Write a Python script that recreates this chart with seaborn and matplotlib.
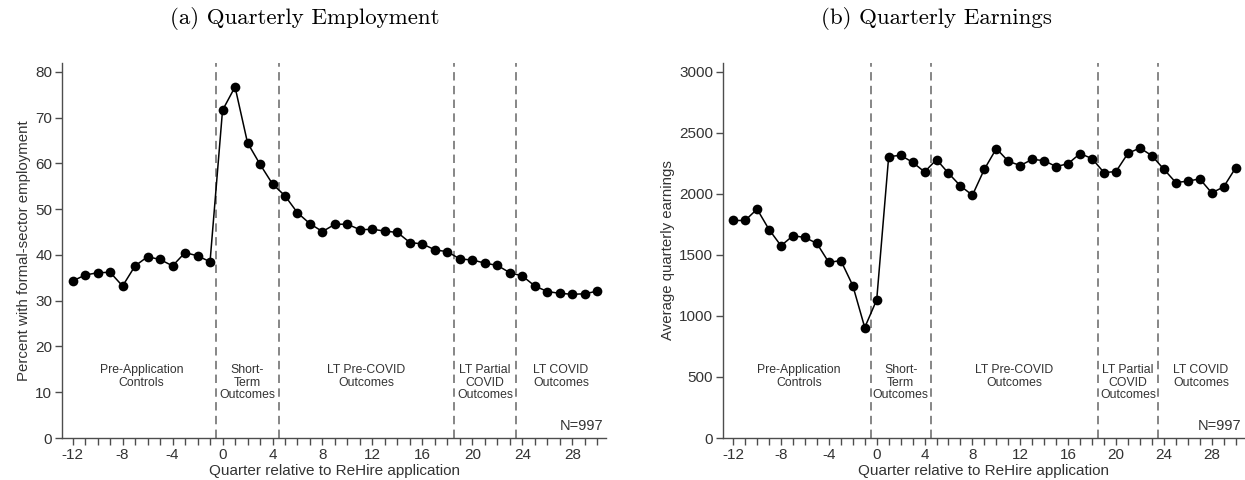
import numpy as np
import pandas as pd
import matplotlib
matplotlib.use("Agg")
import matplotlib.pyplot as plt
import matplotlib.transforms as mtransforms
from matplotlib.ticker import MultipleLocator, FixedLocator
import seaborn as sns

quarters = list(range(-12, 31))
employment = [34.3, 35.6, 36.1, 36.2, 33.2, 37.6, 39.6, 39.0, 37.6, 40.5, 39.8, 38.5,
              71.6, 76.7, 64.5, 59.8, 55.5, 52.9, 49.2, 46.8, 45.1, 46.7, 46.7, 45.5,
              45.6, 45.2, 44.9, 42.7, 42.4, 41.1, 40.7, 39.1, 38.9, 38.2, 37.7, 36.1,
              35.4, 33.2, 32.0, 31.6, 31.4, 31.5, 32.1]
earnings = [1782, 1782, 1875, 1708, 1575, 1657, 1643, 1594, 1438, 1454, 1249, 905,
            1132, 2305, 2316, 2259, 2180, 2281, 2169, 2065, 1989, 2202, 2371, 2267,
            2232, 2283, 2272, 2223, 2248, 2330, 2289, 2174, 2183, 2332, 2376, 2313,
            2202, 2093, 2104, 2123, 2008, 2057, 2213]
period_breaks = [-0.5, 4.5, 18.5, 23.5]
period_labels = ["Pre-Application\nControls", "Short-\nTerm\nOutcomes",
                 "LT Pre-COVID\nOutcomes", "LT Partial\nCOVID\nOutcomes",
                 "LT COVID\nOutcomes"]
period_centers = [-6.5, 2.0, 11.5, 21.0, 27.1]
xtick_labels = list(range(-12, 29, 4))

sns.set_theme(style="ticks")
plt.rcParams['font.family'] = ['Liberation Sans', 'DejaVu Sans']
plt.rcParams['axes.unicode_minus'] = False

df = pd.DataFrame({"quarter": quarters, "employment": employment, "earnings": earnings})

fig = plt.figure(figsize=(12.45, 4.8), dpi=100)
ax1 = fig.add_axes([0.0498, 0.0875, 0.437, 0.782])
ax2 = fig.add_axes([0.5807, 0.0875, 0.4185, 0.782])

text_col = "#333333"
spine_col = "#4d4d4d"

panels = [(ax1, "employment", (0, 82), 10, "Percent with formal-sector employment"),
          (ax2, "earnings", (0, 3075), 500, "Average quarterly earnings")]

for ax, col, ylim, ystep, ylabel in panels:
    for b in period_breaks:
        ax.axvline(b, color="#666666", lw=1.1, ls=(0, (5.5, 3.5)), zorder=1)
    sns.lineplot(data=df, x="quarter", y=col, ax=ax, color="black", lw=1.1,
                 marker="o", markersize=7, markeredgewidth=0, zorder=3)
    ax.set_xlim(-12.85, 30.7)
    ax.set_ylim(*ylim)
    ax.yaxis.set_major_locator(MultipleLocator(ystep))
    ax.xaxis.set_major_locator(FixedLocator(xtick_labels))
    ax.xaxis.set_minor_locator(MultipleLocator(1))
    ax.set_xlabel("Quarter relative to ReHire application", fontsize=11,
                  color=text_col, labelpad=1.5)
    ax.set_ylabel(ylabel, fontsize=10.8, color=text_col, labelpad=3)
    for s in ["top", "right"]:
        ax.spines[s].set_visible(False)
    for s in ["left", "bottom"]:
        ax.spines[s].set_color(spine_col)
        ax.spines[s].set_linewidth(1.0)
    ax.tick_params(axis="both", which="both", direction="out", length=5, width=1.0,
                   color=spine_col, labelcolor=text_col, labelsize=11, pad=2)
    ax.tick_params(axis="x", which="minor", length=5)
    trans = mtransforms.blended_transform_factory(ax.transData, ax.transAxes)
    for xc, lab in zip(period_centers, period_labels):
        ax.text(xc, 0.198, lab, transform=trans, ha="center", va="top",
                fontsize=8.8, color=text_col, linespacing=1.1)
    ax.text(0.995, 0.012, "N=997", transform=ax.transAxes, ha="right", va="bottom",
            fontsize=10.5, color=text_col)

fig.text(0.2445, 0.962, "(a) Quarterly Employment", ha="center", va="center",
         fontsize=16.5, family="cmr10", color="black")
fig.text(0.752, 0.962, "(b) Quarterly Earnings", ha="center", va="center",
         fontsize=16.5, family="cmr10", color="black")

fig.savefig("out.png", dpi=100)
